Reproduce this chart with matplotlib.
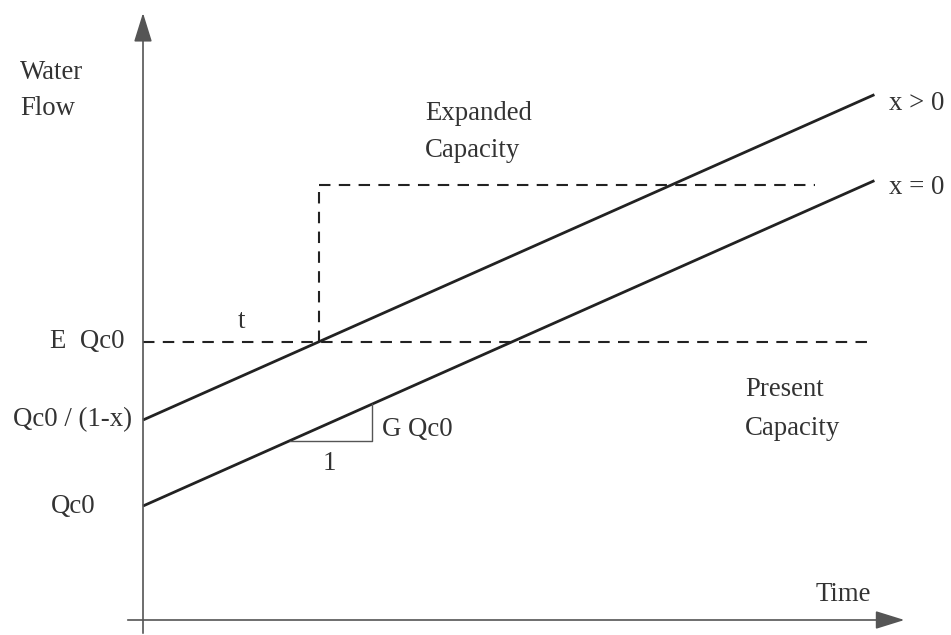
import numpy as np
import matplotlib
matplotlib.use('Agg')
import matplotlib.pyplot as plt

plt.rc('font', family='Liberation Serif')

# ---------------- schematic values (flow in units of Qc0, time in slope units) -----------
Qc0 = 1.0
x_share = 0.43          # x > 0 case
G = 0.32                # growth per unit time (times Qc0)
E = 2.44                # expanded capacity multiplier
Q_expanded = 3.82       # level of the expanded capacity line
t_end = 8.92            # end of the demand lines
t_present_end = 8.87
t_expanded_end = 8.2
t_tri = 1.79            # start of slope triangle

# ---------------- derived lines ----------------
t_line = np.array([0.0, t_end])
flow_x0 = Qc0 + G*Qc0*t_line
flow_xpos = Qc0/(1 - x_share) + G*Qc0*t_line
t_cross = (E*Qc0 - Qc0/(1 - x_share))/(G*Qc0)

fig = plt.figure(figsize=(9.51, 6.35), dpi=100)
ax = fig.add_axes([0, 0, 1, 1])
ax.set_xlim(-1.744, 9.854)
ax.set_ylim(-0.1316, 5.439)
ax.axis('off')

axcol = '#555555'
txtcol = '#333333'
lncol = '#222222'

# ---------- axes with arrows ----------
ax.annotate('', xy=(0, 5.35), xytext=(0, -0.14),
            arrowprops=dict(arrowstyle='-|>,head_length=0.9,head_width=0.28',
                            mutation_scale=20, lw=1.2, color=axcol))
ax.annotate('', xy=(9.32, 0), xytext=(-0.22, 0),
            arrowprops=dict(arrowstyle='-|>,head_length=0.9,head_width=0.28',
                            mutation_scale=20, lw=1.2, color=axcol))

# ---------- demand lines ----------
ax.plot(t_line, flow_xpos, color=lncol, lw=2.0, solid_capstyle='butt')
ax.plot(t_line, flow_x0, color=lncol, lw=2.0, solid_capstyle='butt')

# ---------- capacity (dashed) ----------
ax.plot([0, t_present_end], [E*Qc0, E*Qc0], color=lncol, lw=1.5, dashes=(5.5, 4))
ax.plot([t_cross, t_cross], [E*Qc0, Q_expanded], color=lncol, lw=1.5, dashes=(5.5, 4))
ax.plot([t_cross, t_expanded_end], [Q_expanded, Q_expanded], color=lncol, lw=1.5, dashes=(5.5, 4))

# ---------- slope triangle ----------
y_tri = Qc0 + G*Qc0*t_tri
ax.plot([t_tri, t_tri + 1, t_tri + 1], [y_tri, y_tri, y_tri + G*Qc0],
        color=axcol, lw=1.0)

fs = 19.3
def lbl(x, y, s, ha='left'):
    ax.text(x, y, s, fontsize=fs, color=txtcol, ha=ha, va='center')

lbl(-1.5, 4.807, 'Water')
lbl(-1.5, 4.491, 'Flow')
lbl(3.44, 4.447, 'Expanded')
lbl(3.44, 4.123, 'Capacity')
lbl(9.1, 4.535, 'x > 0')
lbl(9.1, 3.79, 'x = 0')
lbl(1.2, 2.62, 't', ha='center')
lbl(-0.22, E*Qc0, 'E  Qc0', ha='right')
lbl(-0.13, Qc0/(1 - x_share), 'Qc0 / (1-x)', ha='right')
lbl(t_tri + 1.12, y_tri + 0.1, 'G Qc0')
lbl(t_tri + 0.48, y_tri - 0.2, '1', ha='center')
lbl(-0.85, Qc0, 'Qc0', ha='center')
lbl(7.34, 2.018, 'Present')
lbl(7.34, 1.684, 'Capacity')
lbl(8.2, 0.22, 'Time')

plt.savefig('out.png', dpi=100)
